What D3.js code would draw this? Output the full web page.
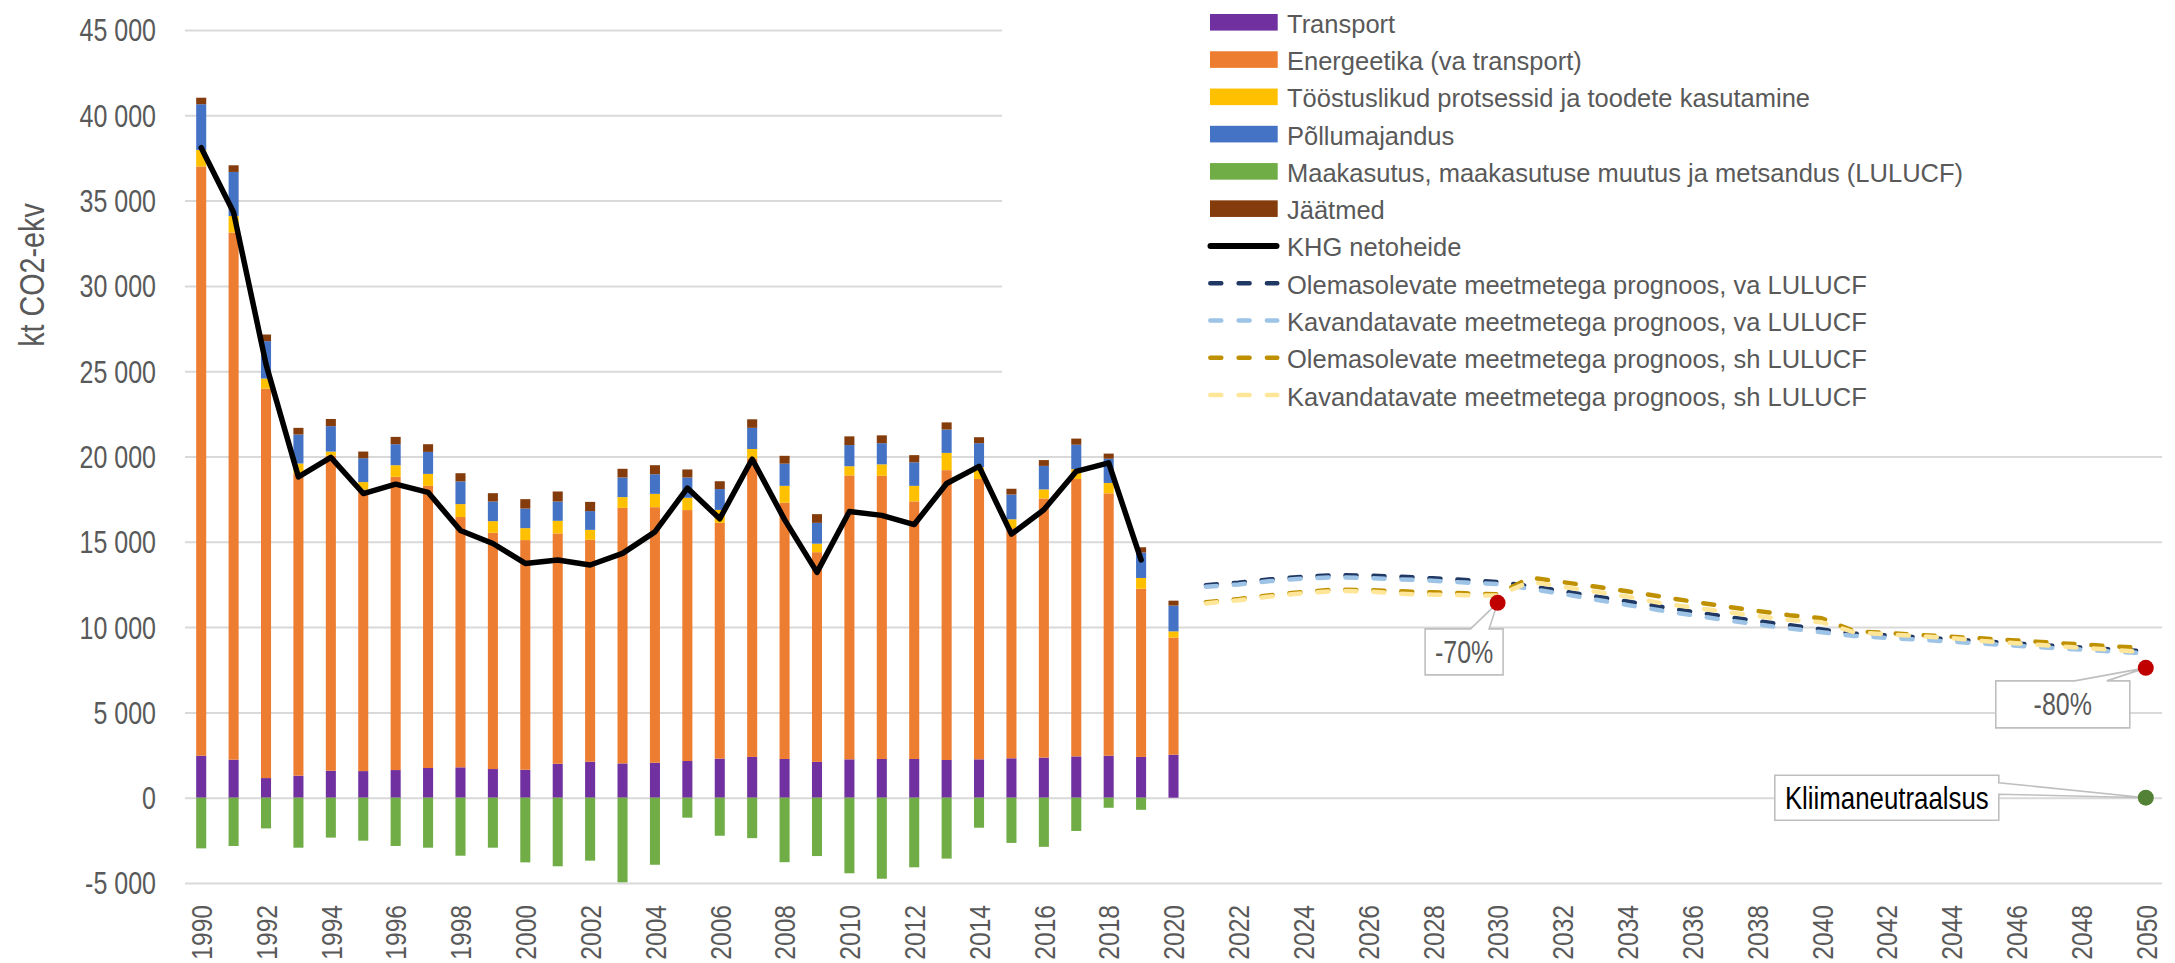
<!DOCTYPE html>
<html><head><meta charset="utf-8">
<script src="https://cdn.jsdelivr.net/npm/d3@7"></script>
<style>
body{margin:0;background:#fff}
svg{display:block}
text{font-family:"Liberation Sans",Arial,sans-serif}
</style>
</head><body>
<svg id="c" width="2175" height="963"></svg>
<script>
// ---------- DATA ----------
const histYears = [1990,1991,1992,1993,1994,1995,1996,1997,1998,1999,2000,2001,2002,2003,2004,2005,2006,2007,2008,2009,2010,2011,2012,2013,2014,2015,2016,2017,2018,2019,2020];
const projYears = [2021,2022,2023,2024,2025,2026,2027,2028,2029,2030,2031,2032,2033,2034,2035,2036,2037,2038,2039,2040,2041,2042,2043,2044,2045,2046,2047,2048,2049,2050];

const transport   = [2460,2230,1150,1290,1580,1560,1620,1740,1780,1680,1640,1990,2110,2010,2050,2150,2290,2390,2270,2100,2250,2270,2270,2210,2250,2310,2350,2420,2460,2390,2520];
const energy      = [34540,30900,22830,17710,18470,16510,17190,16540,14670,13850,13460,13500,13010,14980,14980,14710,13820,17500,15020,12290,16640,16600,15100,16990,16430,13490,15190,16260,15380,9860,6870];
const industry    = [970,970,590,590,240,430,680,700,760,680,700,740,580,630,780,720,760,550,990,500,540,670,910,1010,690,520,530,580,610,630,360];
const agriculture = [2680,2580,2190,1700,1490,1400,1230,1290,1330,1150,1150,1130,1100,1150,1150,1190,1220,1240,1300,1220,1240,1240,1380,1370,1410,1450,1380,1430,1420,1490,1510];
const lulucf      = [-2970,-2830,-1800,-2930,-2340,-2520,-2830,-2930,-3400,-2930,-3790,-4020,-3690,-4960,-3930,-1170,-2230,-2370,-3780,-3420,-4430,-4750,-4080,-3570,-1760,-2650,-2880,-1950,-590,-710,null];
const waste       = [380,390,390,390,420,390,430,450,480,490,550,590,540,510,530,470,460,500,460,510,510,460,420,420,350,340,340,360,300,310,290];

const netYears     = [1990,1991,1992,1993,1994,1995,1996,1997,1998,1999,2000,2001,2002,2003,2004,2005,2006,2007,2008,2009,2010,2011,2012,2013,2014,2015,2016,2017,2018,2019];
const netEmissions = [38100,34300,25400,18800,19950,17830,18380,17900,15660,14900,13730,13930,13640,14320,15580,18150,16350,19850,16300,13210,16780,16550,16010,18420,19420,15450,16880,19130,19630,13940];

const wemExclLulucf = [12460,12600,12800,12950,13050,13020,12950,12860,12760,12640,12400,12100,11800,11500,11200,10900,10620,10360,10110,9860,9620,9510,9400,9280,9160,9040,8920,8800,8690,8580];
const wamExclLulucf = [12370,12500,12700,12850,12920,12880,12800,12720,12610,12520,12250,11950,11620,11300,10990,10700,10420,10160,9920,9700,9480,9370,9260,9150,9030,8910,8790,8680,8570,8460];
const wemInclLulucf = [11450,11640,11870,12060,12200,12170,12100,12040,11980,11920,12900,12640,12380,12100,11800,11500,11220,10950,10700,10520,9760,9650,9540,9430,9330,9220,9100,8980,8870,8760];
const wamInclLulucf = [11390,11570,11800,11990,12120,12100,11950,11900,11870,11850,12660,12370,12080,11790,11420,11150,10900,10650,10420,10280,9700,9580,9470,9360,9180,9050,8920,8790,8660,8530];

const targetYears  = [2030, 2050, 2050];
const targetValues = [11420, 7610, 0];
const targetLabels = ["-70%", "-80%", "Kliimaneutraalsus"];

const yTicks = [-5000,0,5000,10000,15000,20000,25000,30000,35000,40000,45000];
const xTickLabels = ["1990","1992","1994","1996","1998","2000","2002","2004","2006","2008","2010","2012","2014","2016","2018","2020","2022","2024","2026","2028","2030","2032","2034","2036","2038","2040","2042","2044","2046","2048","2050"];

const yTitle = "kt CO2-ekv";
const legendLabels = ["Transport","Energeetika (va transport)","Tööstuslikud protsessid ja toodete kasutamine","Põllumajandus","Maakasutus, maakasutuse muutus ja metsandus (LULUCF)","Jäätmed","KHG netoheide","Olemasolevate meetmetega prognoos, va LULUCF","Kavandatavate meetmetega prognoos, va LULUCF","Olemasolevate meetmetega prognoos, sh LULUCF","Kavandatavate meetmetega prognoos, sh LULUCF"];

// ---------- STYLE ----------
const C = {
  transport:"#7030A0", energy:"#ED7D31", industry:"#FFC000", agriculture:"#4472C4",
  lulucf:"#70AD47", waste:"#843C0C", net:"#000000",
  wemEx:"#203864", wamEx:"#9DC3E6", wemIn:"#BF9000", wamIn:"#FFE699",
  grid:"#D9D9D9", text:"#595959", red:"#C00000", green:"#538135", box:"#BFBFBF"
};
const W = 2175, H = 963;
const plotL = 185, plotR = 2162, yTop = 30, yBot = 883;

const svg = d3.select("#c");
svg.append("rect").attr("width",W).attr("height",H).attr("fill","#fff");

const allYears = histYears.concat(projYears);
const x = d3.scaleBand().domain(allYears).range([plotL, plotR]).paddingInner(0.69).paddingOuter(0.345);
const y = d3.scaleLinear().domain([-5000,45000]).range([yBot, yTop]);
const cx = yr => x(yr) + x.bandwidth()/2;

// gridlines
const gGrid = svg.append("g").attr("transform",`translate(${plotL},0)`)
  .call(d3.axisRight(y).tickValues(yTicks).tickSize(plotR-plotL).tickFormat(""));
gGrid.select(".domain").remove();
gGrid.selectAll("line").attr("stroke",C.grid).attr("stroke-width",2);

// legend background (covers gridlines)
svg.append("rect").attr("x",1002).attr("y",0).attr("width",W-1002).attr("height",412).attr("fill","#fff");

// y axis labels
const loc = d3.formatLocale({decimal:",", thousands:" ", grouping:[3], currency:["",""], minus:"-"});
const fmt = loc.format(",d");
const gy = svg.append("g").attr("transform","translate(156,0)")
  .call(d3.axisLeft(y).tickValues(yTicks).tickSize(0).tickFormat(fmt));
gy.select(".domain").remove();
gy.selectAll("text").attr("x",0).attr("dy","0.357em").attr("text-anchor","end")
  .attr("transform","scale(0.82,1)").style("font-size","30.5px").attr("fill",C.text);

// x axis labels
const gx = svg.append("g").attr("transform","translate(0,905)")
  .call(d3.axisBottom(x).tickValues(xTickLabels.map(Number)).tickSize(0).tickFormat(d3.format("d")));
gx.select(".domain").remove();
gx.selectAll("text").attr("x",0).attr("y",0).attr("dy","0.36em").attr("text-anchor","end")
  .attr("transform","rotate(-90) scale(0.82,1)").style("font-size","30px").attr("fill",C.text);

// y title
svg.append("g").attr("transform","translate(44,275) rotate(-90) scale(0.82,1)")
  .append("text").attr("text-anchor","middle").style("font-size","35px").attr("fill",C.text).text(yTitle);

// stacked bars
const rows = histYears.map((yr,i)=>({year:yr, transport:transport[i], energy:energy[i], industry:industry[i], agriculture:agriculture[i], waste:waste[i]}));
const keys = ["transport","energy","industry","agriculture","waste"];
const stacked = d3.stack().keys(keys)(rows);
const gBars = svg.append("g");
stacked.forEach(layer=>{
  gBars.append("g").attr("fill",C[layer.key]).selectAll("rect").data(layer).join("rect")
    .attr("x",d=>x(d.data.year)).attr("width",x.bandwidth())
    .attr("y",d=>y(d[1])).attr("height",d=>y(d[0])-y(d[1]));
});
gBars.append("g").attr("fill",C.lulucf).selectAll("rect")
  .data(histYears.map((yr,i)=>({year:yr,v:lulucf[i]})).filter(d=>d.v!=null)).join("rect")
  .attr("x",d=>x(d.year)).attr("width",x.bandwidth())
  .attr("y",y(0)).attr("height",d=>y(d.v)-y(0));

// net line
svg.append("path").datum(netYears.map((yr,i)=>({year:yr,v:netEmissions[i]})))
  .attr("fill","none").attr("stroke",C.net).attr("stroke-width",5.5)
  .attr("stroke-linejoin","round").attr("stroke-linecap","round")
  .attr("d",d3.line().x(d=>cx(d.year)).y(d=>y(d.v)));

// projections
const projSeries = [
  {vals:wemExclLulucf, col:C.wemEx},
  {vals:wamExclLulucf, col:C.wamEx},
  {vals:wemInclLulucf, col:C.wemIn},
  {vals:wamInclLulucf, col:C.wamIn}
];
const pl = d3.line().x(d=>cx(d.year)).y(d=>y(d.v));
projSeries.forEach(s=>{
  svg.append("path").datum(projYears.map((yr,i)=>({year:yr,v:s.vals[i]})))
    .attr("fill","none").attr("stroke",s.col).attr("stroke-width",4.5)
    .attr("stroke-linecap","round").attr("stroke-linejoin","round")
    .attr("stroke-dasharray","11,17").attr("d",pl);
});

// callouts
function calloutTop(px,py,bx,by,bw,bh,w1,w2){
  return `M${bx},${by}L${w1},${by}L${px},${py}L${w2},${by}L${bx+bw},${by}L${bx+bw},${by+bh}L${bx},${by+bh}Z`;
}
function calloutRight(px,py,bx,by,bw,bh,h1,h2){
  return `M${bx},${by}L${bx+bw},${by}L${bx+bw},${h1}L${px},${py}L${bx+bw},${h2}L${bx+bw},${by+bh}L${bx},${by+bh}Z`;
}
const gC = svg.append("g");
// -70%
{
  const px=cx(targetYears[0]), py=y(targetValues[0]);
  const bw=78, bh=46, bx=px-72.5, by=py+26;
  gC.append("path").attr("d",calloutTop(px,py,bx,by,bw,bh,px-27,px-8.5))
    .attr("fill","#fff").attr("stroke",C.box).attr("stroke-width",1.6);
  gC.append("g").attr("transform",`translate(${bx+bw/2},${by+bh/2+10.9}) scale(0.82,1)`)
    .append("text").attr("text-anchor","middle").style("font-size","30.5px").attr("fill",C.text).text(targetLabels[0]);
}
// -80%
{
  const px=cx(targetYears[1]), py=y(targetValues[1]);
  const bw=134, bh=47, bx=px-150, by=py+13;
  gC.append("path").attr("d",calloutTop(px,py,bx,by,bw,bh,px-71,px-39))
    .attr("fill","#fff").attr("stroke",C.box).attr("stroke-width",1.6);
  gC.append("g").attr("transform",`translate(${bx+bw/2},${by+bh/2+10.9}) scale(0.82,1)`)
    .append("text").attr("text-anchor","middle").style("font-size","30.5px").attr("fill",C.text).text(targetLabels[1]);
}
// Kliimaneutraalsus
{
  const px=cx(targetYears[2]), py=y(targetValues[2]);
  const bw=224, bh=45, bx=px-147-bw, by=py-22.5;
  gC.append("path").attr("d",calloutRight(px,py,bx,by,bw,bh,by+7.5,by+19))
    .attr("fill","#fff").attr("stroke",C.box).attr("stroke-width",1.6);
  gC.append("g").attr("transform",`translate(${bx+bw/2},${by+bh/2+11.3}) scale(0.82,1)`)
    .append("text").attr("text-anchor","middle").style("font-size","31.5px").attr("fill","#000").text(targetLabels[2]);
}

// target dots
svg.append("g").selectAll("circle").data(targetYears.map((yr,i)=>({year:yr,v:targetValues[i]}))).join("circle")
  .attr("cx",d=>cx(d.year)).attr("cy",d=>y(d.v)).attr("r",8)
  .attr("fill",d=>d.v===0?C.green:C.red);

// legend
const legendKinds = ["rect","rect","rect","rect","rect","rect","line","dash","dash","dash","dash"];
const legendColors = [C.transport,C.energy,C.industry,C.agriculture,C.lulucf,C.waste,C.net,C.wemEx,C.wamEx,C.wemIn,C.wamIn];
const gL = svg.append("g");
legendLabels.forEach((lab,i)=>{
  const cy = 22.3 + 37.27*i;
  const k = legendKinds[i];
  if(k==="rect"){
    gL.append("rect").attr("x",1210).attr("y",cy-8.3).attr("width",67.7).attr("height",16.6).attr("fill",legendColors[i]);
  } else if(k==="line"){
    gL.append("line").attr("x1",1210.5).attr("x2",1276.5).attr("y1",cy).attr("y2",cy)
      .attr("stroke",legendColors[i]).attr("stroke-width",6).attr("stroke-linecap","round");
  } else {
    gL.append("line").attr("x1",1210.3).attr("x2",1277.3).attr("y1",cy).attr("y2",cy)
      .attr("stroke",legendColors[i]).attr("stroke-width",4.5).attr("stroke-linecap","round")
      .attr("stroke-dasharray","11,17.3");
  }
  gL.append("text").attr("x",1287).attr("y",cy+10.5).style("font-size","25.5px").attr("fill",C.text).text(lab);
});
</script>
</body></html>
